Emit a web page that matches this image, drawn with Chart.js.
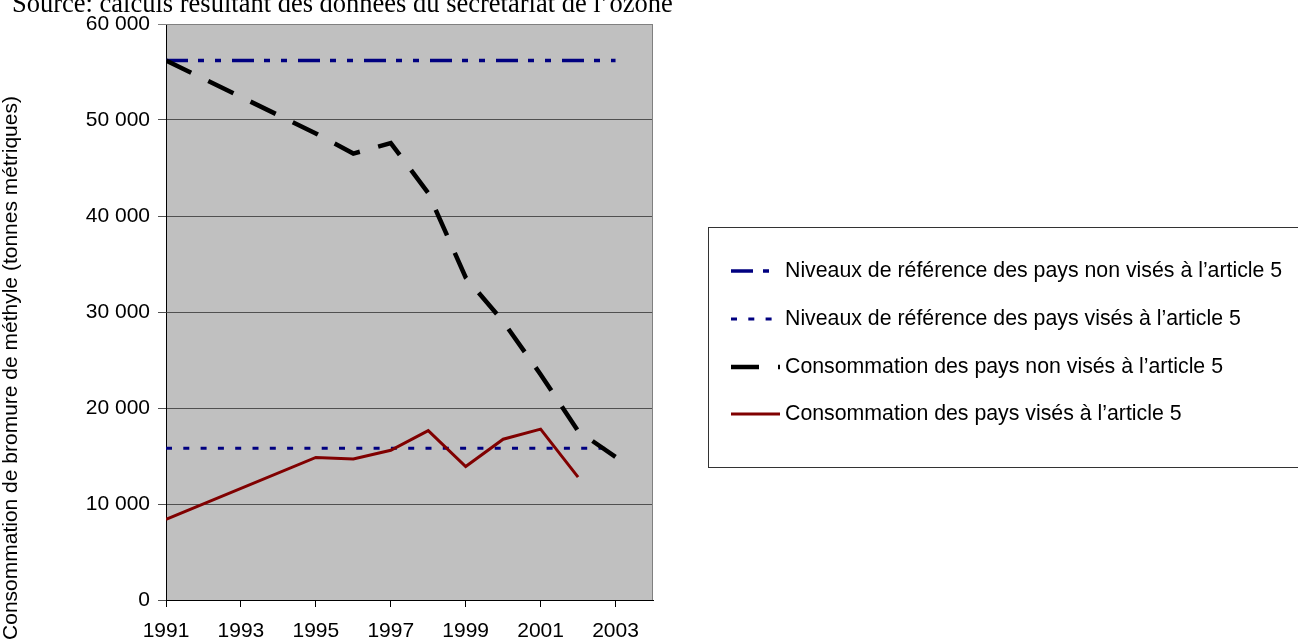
<!DOCTYPE html>
<html>
<head>
<meta charset="utf-8">
<script src="https://cdn.jsdelivr.net/npm/chart.js@4"></script>
<style>
  html, body { margin: 0; padding: 0; background: #fff; overflow: hidden; }
  canvas { display: block; }
</style>
</head>
<body>
<canvas id="myChart" width="1298" height="642"></canvas>
<script>
// years on the x axis
const years = [1991, 1992, 1993, 1994, 1995, 1996, 1997, 1998, 1999, 2000, 2001, 2002, 2003];
const yearTicks = [1991, 1993, 1995, 1997, 1999, 2001, 2003];

// series (tonnes), null = no value
const baseNonA5 = [56200, 56200, 56200, 56200, 56200, 56200, 56200, 56200, 56200, 56200, 56200, 56200, 56200];
const baseA5 = [15800, 15800, 15800, 15800, 15800, 15800, 15800, 15800, 15800, 15800, 15800, 15800, 15800];
const consNonA5 = [56200, null, null, null, 48600, 46500, 47600, 42400, 33600, 29000, 23500, 17600, 14900];
const consA5 = [8400, null, null, null, 14850, 14700, 15600, 17650, 13900, 16750, 17800, 12800, null];

const seriesNames = [
  'Niveaux de référence des pays non visés à l’article 5',
  'Niveaux de référence des pays visés à l’article 5',
  'Consommation des pays non visés à l’article 5',
  'Consommation des pays visés à l’article 5'
];
const titleText = 'Source: calculs résultant des données du secrétariat de l’ozone';
const yTitle = 'Consommation de bromure de méthyle (tonnes métriques)';

function pts(arr) {
  return years.map((y, i) => ({ x: y, y: arr[i] }));
}

const FONT = 'Liberation Sans, Arial, sans-serif';

const plotBg = {
  id: 'plotBg',
  beforeDraw(chart) {
    const { ctx, chartArea: a } = chart;
    ctx.save();
    ctx.fillStyle = '#c0c0c0';
    ctx.fillRect(a.left, a.top, a.right - a.left, a.bottom - a.top);
    ctx.restore();
  },
  afterDatasetsDraw(chart) {
    const { ctx, chartArea: a } = chart;
    ctx.save();
    ctx.strokeStyle = '#808080';
    ctx.lineWidth = 1;
    ctx.beginPath();
    ctx.moveTo(a.left, a.top + 0.5);
    ctx.lineTo(a.right - 0.5, a.top + 0.5);
    ctx.lineTo(a.right - 0.5, a.bottom);
    ctx.stroke();
    ctx.restore();
  }
};

const extras = {
  id: 'extras',
  afterDraw(chart) {
    const ctx = chart.ctx;
    ctx.save();
    // title (source)
    ctx.fillStyle = '#000';
    ctx.font = '26.5px "Liberation Serif", "Times New Roman", serif';
    ctx.textBaseline = 'alphabetic';
    ctx.textAlign = 'left';
    ctx.fillText(titleText, 12, 12);

    // y axis title
    ctx.save();
    ctx.translate(11, 368);
    ctx.rotate(-Math.PI / 2);
    ctx.font = '21px ' + FONT;
    ctx.textAlign = 'center';
    ctx.textBaseline = 'middle';
    ctx.fillText(yTitle, 0, 0);
    ctx.restore();

    // legend box
    ctx.strokeStyle = '#333';
    ctx.lineWidth = 1;
    ctx.strokeRect(708.5, 227.5, 700, 240);
    const rows = [271, 319, 367, 414];
    chart.data.datasets.forEach((ds, i) => {
      const y = rows[i];
      ctx.beginPath();
      ctx.strokeStyle = ds.borderColor;
      ctx.lineWidth = ds.borderWidth;
      ctx.lineCap = 'butt';
      ctx.setLineDash(ds.borderDash || []);
      ctx.moveTo(731, y);
      ctx.lineTo(780, y);
      ctx.stroke();
      ctx.setLineDash([]);
      ctx.fillStyle = '#000';
      ctx.font = '21.3px ' + FONT;
      ctx.textAlign = 'left';
      ctx.textBaseline = 'middle';
      ctx.fillText(ds.label, 785, y);
    });
    ctx.restore();
  }
};

const ctx = document.getElementById('myChart');

new Chart(ctx, {
  type: 'line',
  data: {
    datasets: [
      {
        label: seriesNames[0],
        data: pts(baseNonA5),
        borderColor: '#000080',
        borderWidth: 3.5,
        borderDash: [22, 10, 6, 11, 6, 11],
        order: 4
      },
      {
        label: seriesNames[1],
        data: pts(baseA5),
        borderColor: '#000080',
        borderWidth: 3,
        borderDash: [6, 11.3],
        order: 3
      },
      {
        label: seriesNames[2],
        data: pts(consNonA5),
        borderColor: '#000000',
        borderWidth: 4.5,
        borderDash: [28, 19],
        order: 1
      },
      {
        label: seriesNames[3],
        data: pts(consA5),
        borderColor: '#800000',
        borderWidth: 3,
        order: 2
      }
    ]
  },
  options: {
    responsive: false,
    animation: false,
    spanGaps: true,
    layout: { padding: { top: 24, right: 645, left: 0, bottom: 0 } },
    elements: {
      point: { radius: 0 },
      line: { tension: 0, borderCapStyle: 'butt', fill: false }
    },
    plugins: {
      legend: { display: false },
      tooltip: { enabled: false }
    },
    scales: {
      x: {
        type: 'linear',
        min: 1991,
        max: 2004,
        afterBuildTicks(axis) {
          axis.ticks = yearTicks.map(v => ({ value: v }));
        },
        afterFit(scale) { scale.height = 42; },
        ticks: {
          color: '#000',
          font: { family: FONT, size: 21 },
          padding: 12,
          maxRotation: 0,
          callback: v => String(v)
        },
        grid: { drawOnChartArea: false, tickLength: 7, color: '#000' },
        border: { color: '#000', width: 1 }
      },
      y: {
        min: 0,
        max: 60000,
        afterFit(scale) { scale.width = 166; },
        ticks: {
          stepSize: 10000,
          color: '#000',
          font: { family: FONT, size: 21 },
          padding: 8,
          callback: v => v === 0 ? '0' : String(v).replace(/\B(?=(\d{3})+(?!\d))/g, ' ')
        },
        grid: {
          color: c => c.tick && c.tick.value === 60000 ? '#808080' : '#505050',
          tickLength: 8
        },
        border: { color: '#000', width: 1 },
        title: { display: false }
      }
    }
  },
  plugins: [plotBg, extras]
});
</script>
</body>
</html>
